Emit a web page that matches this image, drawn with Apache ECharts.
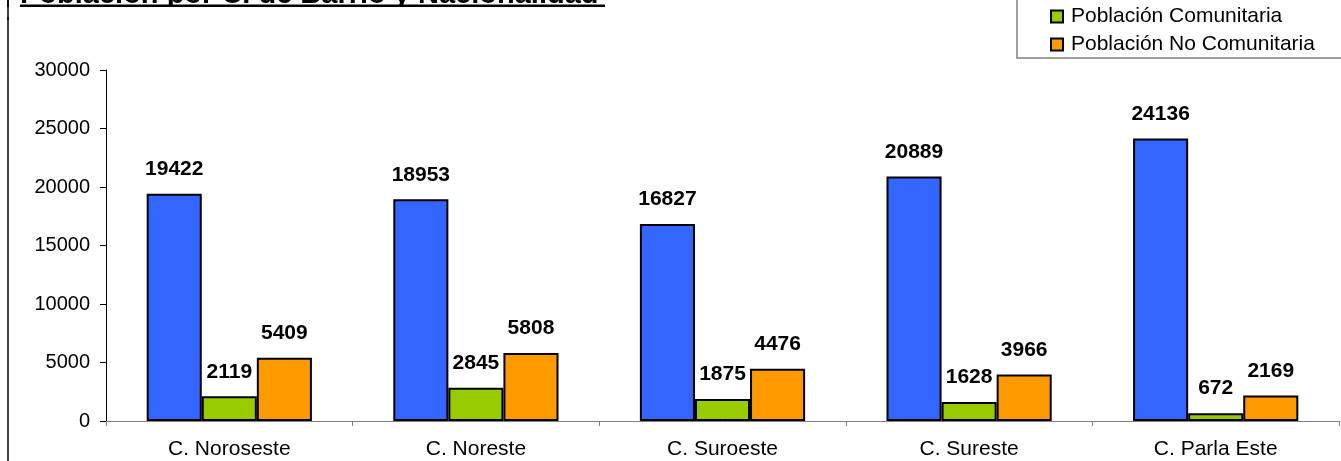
<!DOCTYPE html>
<html>
<head>
<meta charset="utf-8">
<script src="https://cdn.jsdelivr.net/npm/echarts@6/dist/echarts.min.js"></script>
<style>
html,body{margin:0;padding:0;background:#fff;}
#chart{width:1341px;height:461px;}
</style>
</head>
<body>
<div id="chart"></div>
<script>
const titleText = 'Población por C. de Barrio y Nacionalidad';
const categories = ['C. Noroseste', 'C. Noreste', 'C. Suroeste', 'C. Sureste', 'C. Parla Este'];
const seriesNames = ['Población Española', 'Población Comunitaria', 'Población No Comunitaria'];
const espanola = [19422, 18953, 16827, 20889, 24136];
const comunitaria = [2119, 2845, 1875, 1628, 672];
const noComunitaria = [5409, 5808, 4476, 3966, 2169];
const yTicks = [0, 5000, 10000, 15000, 20000, 25000, 30000];

const colors = ['#3366FF', '#99CC00', '#FF9900'];
const font = 'Arial, "Liberation Sans", sans-serif';
const values = [espanola, comunitaria, noComunitaria];

const chart = echarts.init(document.getElementById('chart'), null, {renderer: 'canvas'});
chart.setOption({
  animation: false,
  backgroundColor: '#fff',
  textStyle: {fontFamily: font},
  grid: {left: 106, right: 2, top: 70, bottom: 40, containLabel: false},
  legend: {
    orient: 'vertical',
    left: 1017,
    top: -28,
    padding: [6, 80, 3, 33],
    itemGap: 7,
    itemWidth: 12,
    itemHeight: 12,
    icon: 'rect',
    backgroundColor: '#fff',
    borderColor: '#808080',
    borderWidth: 1.5,
    borderRadius: 0,
    data: seriesNames,
    itemStyle: {borderWidth: 2, borderColor: '#000'},
    textStyle: {fontSize: 21, color: '#000', fontFamily: font, padding: [0, 0, 0, 3]}
  },
  xAxis: {
    type: 'category',
    data: categories,
    axisLine: {lineStyle: {color: '#808080', width: 1}},
    axisTick: {show: true, inside: false, length: 5, alignWithLabel: false, lineStyle: {color: '#808080'}},
    axisLabel: {fontSize: 21, color: '#000', margin: 18, fontFamily: font},
    splitLine: {show: false}
  },
  yAxis: {
    type: 'value',
    min: yTicks[0],
    max: yTicks[yTicks.length - 1],
    interval: yTicks[1] - yTicks[0],
    axisLine: {show: true, lineStyle: {color: '#000', width: 1}},
    axisTick: {show: true, inside: false, length: 6, lineStyle: {color: '#000'}},
    axisLabel: {fontSize: 20, color: '#000', margin: 16, fontFamily: font, formatter: v => String(v)},
    splitLine: {show: false}
  },
  series: seriesNames.map((name, i) => ({
    name: name,
    type: 'bar',
    data: values[i],
    barGap: '0%',
    barCategoryGap: '33%',
    itemStyle: {color: colors[i], borderColor: '#000', borderWidth: 2},
    label: {
      show: true,
      position: 'top',
      distance: 14,
      fontSize: 21,
      fontWeight: 'bold',
      color: '#000',
      fontFamily: font
    }
  })),
  graphic: [
    {type: 'line', shape: {x1: 8, y1: 0, x2: 8, y2: 461}, style: {stroke: '#000', lineWidth: 1.5}},
    {type: 'text', x: 20, y: 9, z: 10, style: {text: titleText, font: 'bold 29px ' + font, fill: '#000', verticalAlign: 'bottom'}},
    {type: 'rect', z: 11, shape: {x: 20, y: 4.5, width: 585, height: 2.5}, style: {fill: '#000'}},
    {type: 'rect', z: 11, shape: {x: 0, y: 7, width: 700, height: 10}, style: {fill: '#fff'}},
    {type: 'line', z: 12, shape: {x1: 8, y1: 0, x2: 8, y2: 20}, style: {stroke: '#000', lineWidth: 1.5}}
  ]
});
</script>
</body>
</html>
